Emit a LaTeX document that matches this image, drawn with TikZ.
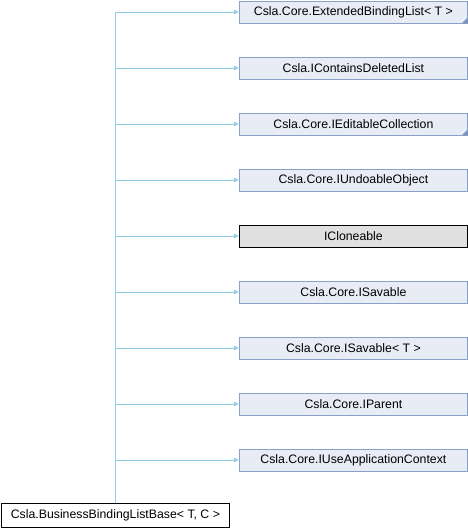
\documentclass[tikz,border=0pt]{standalone}
\usepackage{fontspec}
\setmainfont{Liberation Sans}
\usetikzlibrary{arrows.meta}
\definecolor{edgeblue}{HTML}{8FCBEA}
\definecolor{nodefill}{HTML}{E8ECF5}
\definecolor{nodeborder}{HTML}{8A9FCB}
\definecolor{cornerblue}{HTML}{7F93C4}
\definecolor{greyfill}{HTML}{E0E0E0}
\tikzset{
  base/.style={draw=nodeborder, fill=nodefill, line width=0.8bp, minimum width=228bp, minimum height=22bp, inner sep=0pt, font=\fontsize{12.3bp}{14bp}\selectfont, anchor=west},
  grey/.style={base, draw=black, fill=greyfill},
  derived/.style={base, draw=black, fill=white, minimum width=228bp, minimum height=24bp},
  inh/.style={draw=edgeblue, line width=0.8bp, -{Latex[length=5bp,width=5bp]}},
  trunk/.style={draw=edgeblue, line width=0.8bp},
  corner/.style={fill=cornerblue}
}
\begin{document}
\begin{tikzpicture}[x=1bp,y=-1bp]
\useasboundingbox (0,0) rectangle (468,528);
\node[base] (n1) at (239,12) {Csla.Core.ExtendedBindingList< T >};
\node[base] (n2) at (239,68) {Csla.IContainsDeletedList};
\node[base] (n3) at (239,124) {Csla.Core.IEditableCollection};
\node[base] (n4) at (239,180) {Csla.Core.IUndoableObject};
\node[grey] (n5) at (239,236) {ICloneable};
\node[base] (n6) at (239,292) {Csla.Core.ISavable};
\node[base] (n7) at (239,348) {Csla.Core.ISavable< T >};
\node[base] (n8) at (239,404) {Csla.Core.IParent};
\node[base] (n9) at (239,460) {Csla.Core.IUseApplicationContext};
\node[derived] (d) at (1,515) {Csla.BusinessBindingListBase< T, C >};
\fill[corner] (n1.south east) -- ++(-6,0) -- ++(6,-6) -- cycle;
\fill[corner] (n3.south east) -- ++(-6,0) -- ++(6,-6) -- cycle;
\coordinate (top) at (115,12);
\draw[trunk] (d.north -| top) -- (top);
\foreach \n in {n1,n2,n3,n4,n5,n6,n7,n8,n9}{
  \draw[inh] (top |- \n.west) -- (\n.west);
}
\end{tikzpicture}
\end{document}
